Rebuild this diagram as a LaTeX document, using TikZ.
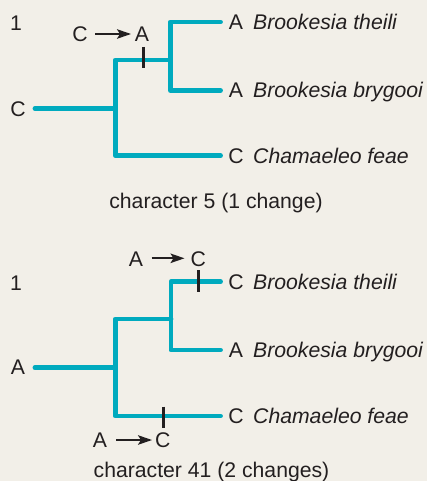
\documentclass[tikz,border=0pt]{standalone}
\usepackage{fontspec}
\setmainfont{Liberation Sans}
\usetikzlibrary{arrows.meta}
\definecolor{bgc}{RGB}{242,239,232}
\definecolor{teal}{RGB}{0,170,190}
\definecolor{ink}{RGB}{35,31,32}
\begin{document}
\begin{tikzpicture}[x=1pt,y=-1pt,
  branch/.style={draw=teal,line width=4.9pt,line cap=round,line join=round},
  tickmark/.style={draw=ink,line width=3pt},
  changearrow/.style={draw=ink,line width=1.7pt,-{Stealth[length=14pt,width=9.5pt,inset=3pt]}},
  txt/.style={inner sep=0pt,anchor=base,text=ink,font=\fontsize{21.2}{25}\selectfont},
  sp/.style={txt,anchor=base west,font=\fontsize{21.2}{25}\selectfont\itshape}]
\fill[bgc] (0,0) rectangle (427,481);
\useasboundingbox (0,0) rectangle (427,481);

% ---------- top tree: character 5 ----------
\node[txt] (one1) at (16,30.5) {1};
\node[txt] (rootlab1) at (18,116.3) {C};
\coordinate (r1) at (35,108.5);
\coordinate (n1) at (115.3,108.5);
\coordinate (n2) at (170.5,60);
\coordinate (t1) at (220.5,22);
\coordinate (t2) at (220.5,90.5);
\coordinate (t3) at (220.5,155.8);
\draw[branch] (r1) -- (n1);
\draw[branch] (n1) |- (n2);
\draw[branch] (n1) |- (t3);
\draw[branch] (n2) |- (t1);
\draw[branch] (n2) |- (t2);
\draw[tickmark] (143,47) -- (143,68.5);
\node[txt] (fromC) at (80,41.5) {C};
\node[txt] (toA) at (142,41.5) {A};
\draw[changearrow] (95,34) -- (131,34);
\node[txt] (s1) at (236,29.5) {A};
\node[sp] (sp1) at (253,29.5) {Brookesia theili};
\node[txt] (s2) at (236,97.8) {A};
\node[sp] (sp2) at (253,97.8) {Brookesia brygooi};
\node[txt] (s3) at (236,163.2) {C};
\node[sp] (sp3) at (253,163.2) {Chamaeleo feae};
\node[txt] (cap1) at (216,208) {character 5 (1 change)};

% ---------- bottom tree: character 41 ----------
\node[txt] (one2) at (16,290.5) {1};
\node[txt] (rootlab2) at (18,374.5) {A};
\coordinate (r2) at (35,367.7);
\coordinate (m1) at (115.3,367.7);
\coordinate (m2) at (171,319);
\coordinate (u1) at (220.5,281.7);
\coordinate (u2) at (220.5,350);
\coordinate (u3) at (220.5,416);
\draw[branch] (r2) -- (m1);
\draw[branch] (m1) |- (m2);
\draw[branch] (m1) |- (u3);
\draw[branch] (m2) |- (u1);
\draw[branch] (m2) |- (u2);
\draw[tickmark] (198.3,270) -- (198.3,291.7);
\node[txt] (fromA2) at (136,266) {A};
\node[txt] (toC2) at (198.3,266) {C};
\draw[changearrow] (151.5,258.3) -- (184.5,258.3);
\draw[tickmark] (163.3,406.7) -- (163.3,428.3);
\node[txt] (fromA3) at (100,447) {A};
\node[txt] (toC3) at (162.7,447) {C};
\draw[changearrow] (116,440) -- (152,440);
\node[txt] (v1) at (236,289.2) {C};
\node[sp] (sq1) at (253,289.2) {Brookesia theili};
\node[txt] (v2) at (236,357.3) {A};
\node[sp] (sq2) at (253,357.3) {Brookesia brygooi};
\node[txt] (v3) at (236,423.3) {C};
\node[sp] (sq3) at (253,423.3) {Chamaeleo feae};
\node[txt] (cap2) at (211.5,477.5) {character 41 (2 changes)};
\end{tikzpicture}
\end{document}
